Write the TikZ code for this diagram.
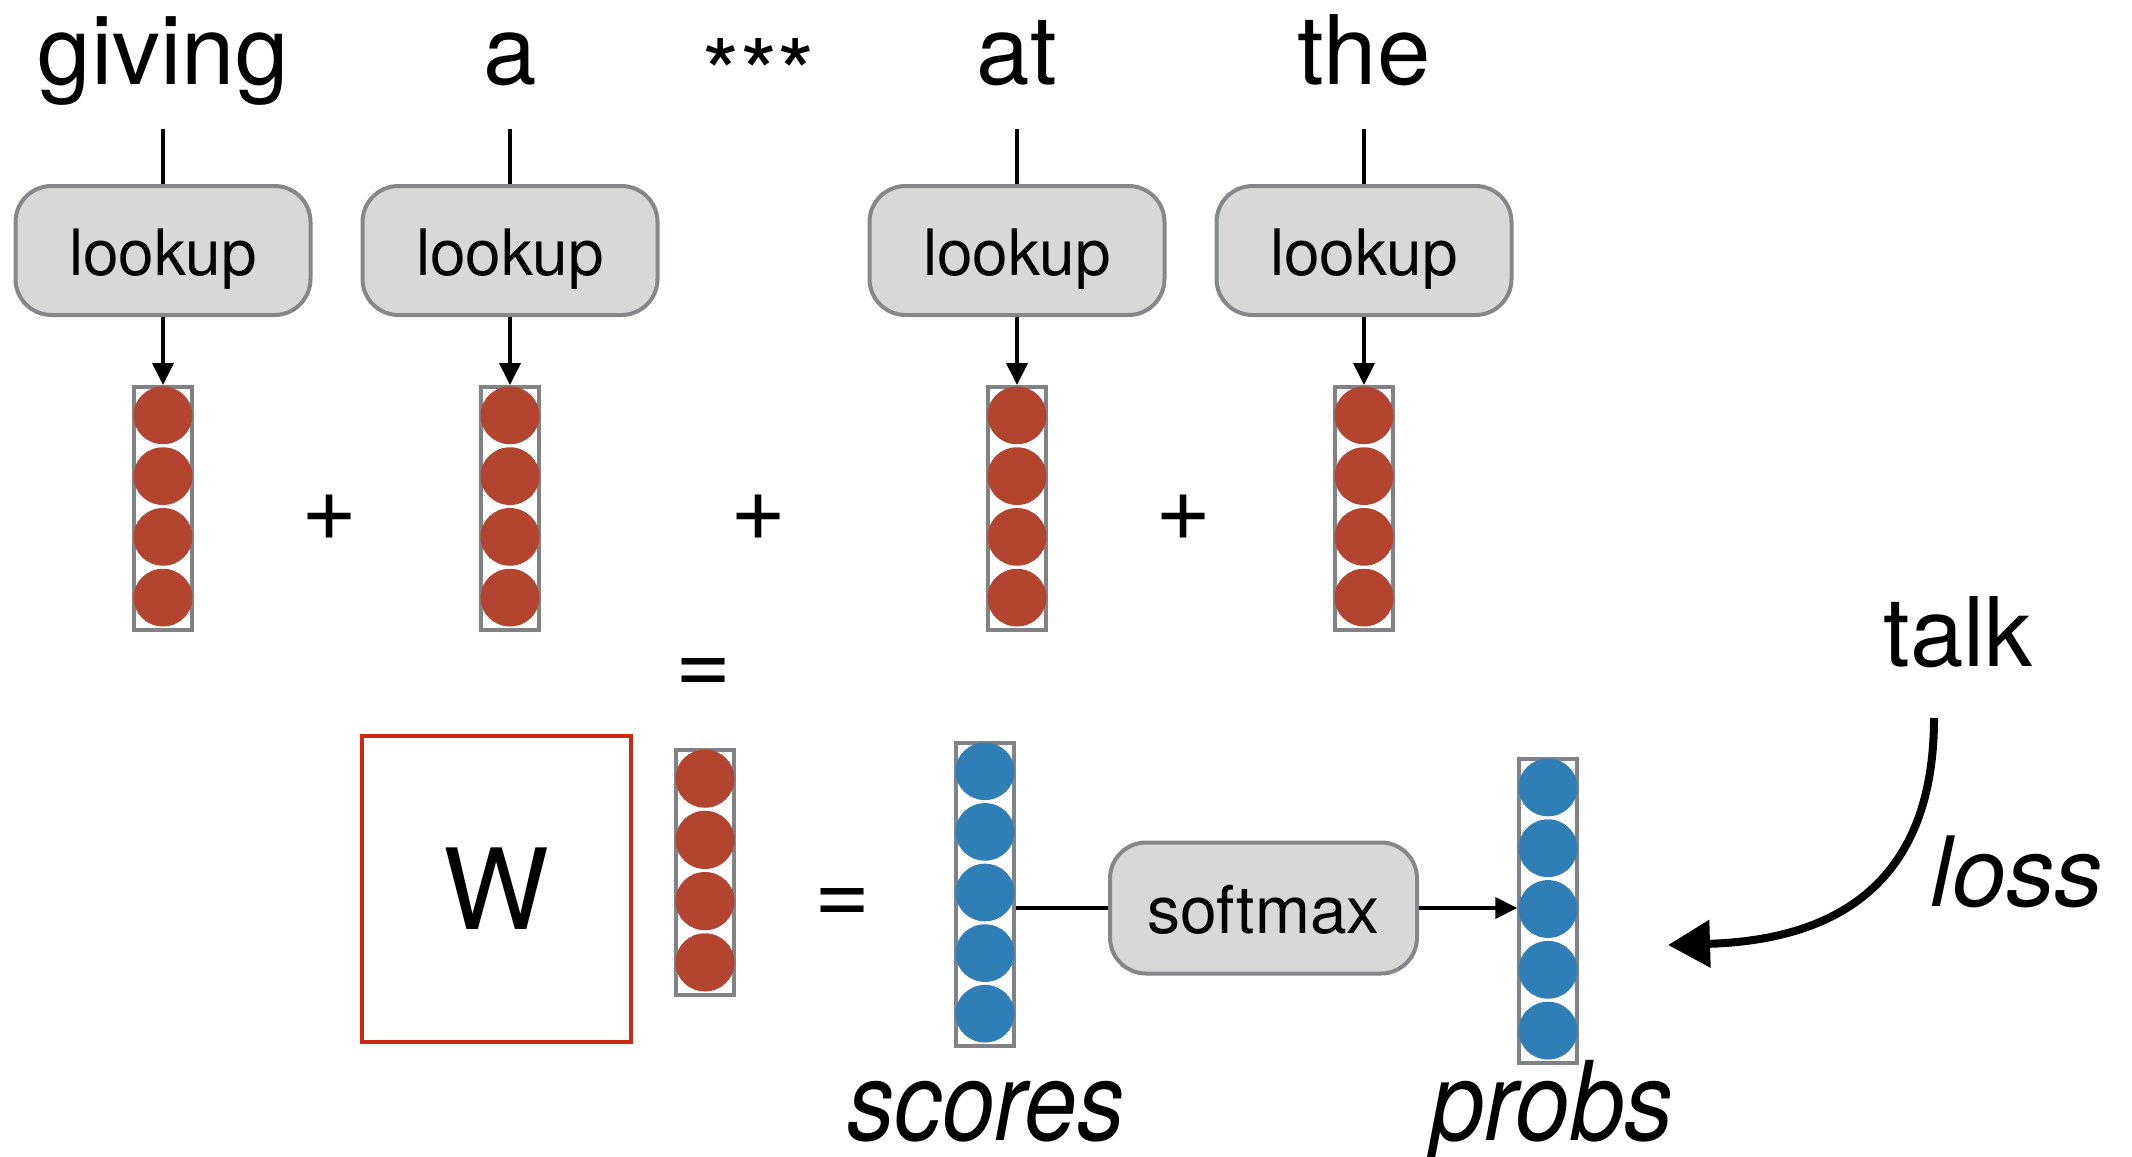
\documentclass[tikz,border=0pt]{standalone}
\usepackage{fontspec}
\setmainfont{TeX Gyre Heros}
\usetikzlibrary{arrows.meta}
\definecolor{redc}{HTML}{B24430}
\definecolor{bluec}{HTML}{2F7EB5}
\definecolor{boxfill}{HTML}{D8D8D8}
\definecolor{boxline}{HTML}{85878A}
\definecolor{vline}{HTML}{808285}
\definecolor{wred}{HTML}{CC2A10}
\newcommand\myvec[6]{%
  \node[vecbox, minimum height={#4*#6pt}, anchor=north] (#1) at (#2,#3) {};
  \foreach \k in {1,...,#4}{%
    \fill[#5] (#2,{#3+#6*(\k-0.5)}) ellipse [x radius=29.5pt, y radius={#6*0.5pt-1.5pt}];
  }%
}
\tikzset{
  word/.style={font=\fontsize{96}{100}\selectfont, inner sep=0pt, anchor=base},
  opbox/.style={draw=boxline, fill=boxfill, line width=4pt, rounded corners=36pt,
    minimum width=295pt, minimum height=129pt, inner sep=0pt,
    text height=50pt, text depth=0pt,
    font=\fontsize{64}{70}\selectfont},
  vecbox/.style={draw=vline, line width=3.5pt, minimum width=58pt, inner sep=0pt},
  conn/.style={line width=4pt, black},
  arr/.style={conn, -{Triangle[length=22pt,width=21pt]}},
  bigital/.style={font=\fontsize{110}{110}\selectfont\itshape, inner sep=0pt, anchor=base}
}
\begin{document}
\begin{tikzpicture}[x=1pt,y=-1pt]
\useasboundingbox (0,0) rectangle (2132,1156);

% top words
\node[word] (w1) at (163,84) {giving};
\node[word] (w2) at (510,84) {a};
\node[word] (w3) at (759,108) {***};
\node[word] (w4) at (1017,84) {at};
\node[word] (w5) at (1364,84) {the};

% lookup boxes
\node[opbox] (b1) at (163,250.5) {lookup};
\node[opbox] (b2) at (510,250.5) {lookup};
\node[opbox] (b4) at (1017,250.5) {lookup};
\node[opbox] (b5) at (1364,250.5) {lookup};

% word vectors
\myvec{v1}{163}{385}{4}{redc}{60.75}
\myvec{v2}{510}{385}{4}{redc}{60.75}
\myvec{v4}{1017}{385}{4}{redc}{60.75}
\myvec{v5}{1364}{385}{4}{redc}{60.75}

% connectors
\foreach \i in {1,2,4,5}{
  \coordinate (t\i) at ([yshift=-45pt]w\i.base);
  \draw[conn] (t\i) -- (b\i.north);
  \draw[arr] (b\i.south) -- (v\i.north);
}

% plus signs
\node[word] (p1) at (330,540) {+};
\node[word] (p2) at (759,540) {+};
\node[word] (p3) at (1184,540) {+};
\node[word] (eq1) at (704,694) {=};

% W matrix
\node[draw=wred, line width=4.5pt, minimum width=269pt, minimum height=306pt, inner sep=0pt,
  font=\fontsize{112}{112}\selectfont] (W) at (496.5,889) {W};
\myvec{hv}{705}{748}{4}{redc}{61.25}
\node[word] (eq2) at (843,924) {=};
\myvec{sc}{985}{741}{5}{bluec}{60.6}
\myvec{pr}{1548}{757}{5}{bluec}{60.8}

% softmax
\node[opbox, minimum width=307pt, minimum height=131pt, font=\fontsize{66}{70}\selectfont]
  (smx) at (1263.5,908) {softmax};
\draw[conn] (sc.east |- smx.west) -- (smx.west);
\draw[arr] (smx.east) -- (smx.east -| pr.west);

% labels
\node[bigital] (lsc) at (986,1140) {\scalebox{0.86}[1]{scores}};
\node[bigital] (lpr) at (1552,1140) {\scalebox{0.89}[1]{probs}};
\node[word] (talk) at (1958,666) {talk};
\node[word, font=\fontsize{97}{100}\selectfont\itshape] (loss) at (2017,906) {loss};

% loss arrow
\coordinate (ls) at (1934,718);
\coordinate (le) at (1668,945);
\draw[line width=8pt, -{Triangle[length=42pt,width=46pt]}]
  (ls) .. controls (1934,880) and (1840,940) .. (le);
\end{tikzpicture}
\end{document}
